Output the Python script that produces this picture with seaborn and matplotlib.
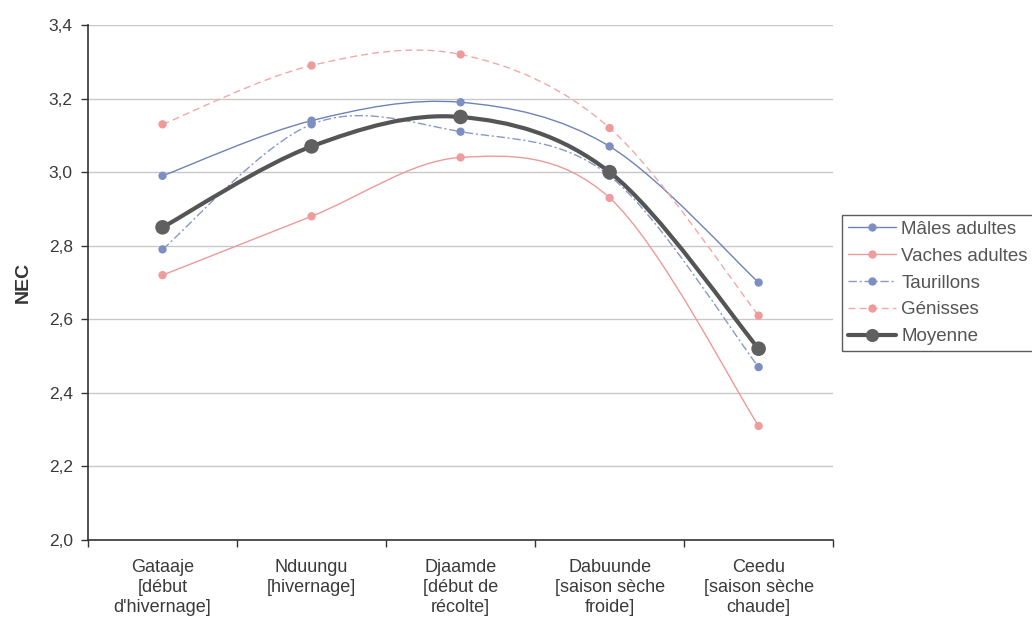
import numpy as np
import pandas as pd
import matplotlib
matplotlib.use("Agg")
import matplotlib.pyplot as plt
from matplotlib.path import Path
from matplotlib.patches import PathPatch
from matplotlib.lines import Line2D
from matplotlib.ticker import FuncFormatter, FixedLocator
import seaborn as sns

# Saisons (axe des x)
saisons = [
    "Gataaje\n[début\nd'hivernage]",
    "Nduungu\n[hivernage]",
    "Djaamde\n[début de\nrécolte]",
    "Dabuunde\n[saison sèche\nfroide]",
    "Ceedu\n[saison sèche\nchaude]",
]

# Note d'état corporel (NEC) moyenne par catégorie d'animaux
males_adultes = [2.99, 3.14, 3.19, 3.07, 2.70]
vaches_adultes = [2.72, 2.88, 3.04, 2.93, 2.31]
taurillons = [2.79, 3.13, 3.11, 2.99, 2.47]
genisses = [3.13, 3.29, 3.32, 3.12, 2.61]
moyenne = [2.85, 3.07, 3.15, 3.00, 2.52]

series_noms = ["Mâles adultes", "Vaches adultes", "Taurillons", "Génisses", "Moyenne"]
series_vals = [males_adultes, vaches_adultes, taurillons, genisses, moyenne]

styles = {
    "Mâles adultes": dict(color="#6f82b8", lw=1.0, ls="-", ms=6, mc="#7d8fc2"),
    "Vaches adultes": dict(color="#ec9a9a", lw=1.0, ls="-", ms=6, mc="#ee9c9c"),
    "Taurillons": dict(color="#8899c8", lw=1.0, ls=(0, (6, 2, 1.5, 2)), ms=6, mc="#7d8fc2"),
    "Génisses": dict(color="#f2a8a8", lw=1.0, ls=(0, (5, 3)), ms=6, mc="#ef9a9a"),
    "Moyenne": dict(color="#555555", lw=3.0, ls="-", ms=10.5, mc="#606060"),
}

df = pd.DataFrame({
    "pos": np.tile(np.arange(len(saisons)), len(series_noms)),
    "NEC": np.concatenate(series_vals),
    "serie": np.repeat(series_noms, len(saisons)),
})

sns.set_theme(style="white")
plt.rcParams["font.family"] = ["Liberation Sans", "DejaVu Sans"]

fig = plt.figure(figsize=(10.32, 6.27), dpi=100)
ax = fig.add_axes([0.0853, 0.1388, 0.7220, 0.8213])


def smooth_path(xs, ys):
    """Courbe de Bézier lissée passant par les points (type Catmull-Rom)."""
    pts = np.column_stack([xs, ys]).astype(float)
    ext = np.vstack([pts[0], pts, pts[-1]])
    verts = [tuple(pts[0])]
    codes = [Path.MOVETO]
    for i in range(len(pts) - 1):
        p0, p1, p2, p3 = ext[i], ext[i + 1], ext[i + 2], ext[i + 3]
        c1 = p1 + (p2 - p0) / 6.0
        c2 = p2 - (p3 - p1) / 6.0
        verts += [tuple(c1), tuple(c2), tuple(p2)]
        codes += [Path.CURVE4] * 3
    return Path(verts, codes)


# Grille horizontale
for yv in np.arange(2.2, 3.41, 0.2):
    ax.axhline(yv, color="#c8c8c8", lw=1.0, zorder=0)

# Courbes lissées
for nom, vals in zip(series_noms, series_vals):
    st = styles[nom]
    patch = PathPatch(smooth_path(np.arange(len(vals)), vals), facecolor="none",
                      edgecolor=st["color"], lw=st["lw"], linestyle=st["ls"],
                      transform=ax.transData, zorder=3 if nom == "Moyenne" else 2)
    ax.add_patch(patch)

# Marqueurs
for nom in series_noms:
    st = styles[nom]
    sub = df[df["serie"] == nom]
    sns.scatterplot(data=sub, x="pos", y="NEC", ax=ax, color=st["mc"],
                    s=st["ms"] ** 2, edgecolor="none", legend=False,
                    zorder=4 if nom == "Moyenne" else 3)

ax.set_xlim(-0.5, len(saisons) - 0.5)
ax.set_ylim(2.0, 3.4)
ax.set_yticks(np.arange(2.0, 3.41, 0.2))
ax.yaxis.set_major_formatter(FuncFormatter(lambda v, p: f"{v:.1f}".replace(".", ",")))
ax.set_xticks(np.arange(len(saisons)))
ax.set_xticklabels(saisons, fontsize=13, color="#3a3a3a", linespacing=1.2)
ax.xaxis.set_minor_locator(FixedLocator(np.arange(-0.5, len(saisons), 1.0)))
ax.tick_params(axis="x", which="major", length=0, pad=14)
ax.tick_params(axis="x", which="minor", length=5, width=1, color="#333333", direction="out")
ax.tick_params(axis="y", length=5, width=1, color="#333333", direction="out",
               labelsize=12.5, labelcolor="#3a3a3a", pad=6)
ax.tick_params(bottom=True, left=True, which="both")

ax.set_xlabel("")
ax.set_ylabel("NEC", fontsize=14, fontweight="bold", color="#333333", labelpad=12)

for side in ["top", "right"]:
    ax.spines[side].set_visible(False)
for side in ["left", "bottom"]:
    ax.spines[side].set_color("#333333")
    ax.spines[side].set_linewidth(1.2)

# Légende
handles = []
for nom in series_noms:
    st = styles[nom]
    handles.append(Line2D([0], [0], color=st["color"], lw=st["lw"], linestyle=st["ls"],
                          marker="o", markersize=st["ms"] * (0.9 if nom == "Moyenne" else 1.0),
                          markerfacecolor=st["mc"], markeredgecolor="none"))
leg = fig.legend(handles, series_noms, loc="upper left", bbox_to_anchor=(0.816, 0.657),
                 frameon=True, fancybox=False, fontsize=13.5, handlelength=2.6,
                 handletextpad=0.25, labelspacing=0.52, borderpad=0.3,
                 borderaxespad=0)
leg.get_frame().set_edgecolor("#333333")
leg.get_frame().set_linewidth(1.0)
for t in leg.get_texts():
    t.set_color("#555555")

fig.savefig("out.png", dpi=100, facecolor="white")
